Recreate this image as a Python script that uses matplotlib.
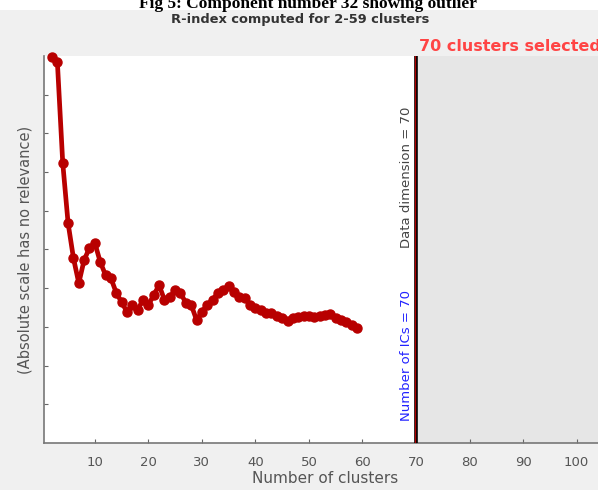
import matplotlib
matplotlib.use("Agg")
import matplotlib.pyplot as plt
from matplotlib.patches import Rectangle

clusters = list(range(2, 60))
r_index = [9.98, 9.84, 7.24, 5.68, 4.78, 4.13, 4.73, 5.04, 5.17, 4.68,
           4.34, 4.26, 3.88, 3.64, 3.39, 3.57, 3.44, 3.70, 3.57, 3.82,
           4.08, 3.70, 3.77, 3.95, 3.88, 3.62, 3.57, 3.18, 3.39, 3.57,
           3.70, 3.88, 3.95, 4.06, 3.90, 3.77, 3.75, 3.57, 3.49, 3.44,
           3.36, 3.36, 3.28, 3.23, 3.15, 3.23, 3.26, 3.28, 3.28, 3.26,
           3.28, 3.31, 3.33, 3.23, 3.18, 3.13, 3.05, 2.97]
xticks = [10, 20, 30, 40, 50, 60, 70, 80, 90, 100]
yticks = [1, 2, 3, 4, 5, 6, 7, 8, 9]
selected = 70

W, H = 598, 490
fig = plt.figure(figsize=(W / 100, H / 100), dpi=100, facecolor="#f0f0f0")

# white strip with clipped caption at top
fig.patches.append(Rectangle((0, 1 - 10 / H), 1, 10 / H, transform=fig.transFigure,
                             facecolor="white", edgecolor="none", zorder=0))
fig.text(0.515, 1 - 8 / H, "Fig 5: Component number 32 showing outlier",
         ha="center", va="baseline", fontsize=12.5, fontweight="bold",
         family="Liberation Serif", color="black")

fig.text(300 / W, 1 - 19 / H, "R-index computed for 2-59 clusters", ha="center",
         va="center", fontsize=9.4, fontweight="bold", color="#333333")

left, bottom, top = 44, 443, 56
right = 606
ax = fig.add_axes([left / W, (H - bottom) / H, (right - left) / W, (bottom - top) / H])
ax.set_facecolor("white")
ax.set_xlim(0.5, 105.5)
ax.set_ylim(0, 10)

ax.axvspan(selected, 105.5, color="#e6e6e6", zorder=0, lw=0)
ax.axvline(selected, color="black", lw=2.6, zorder=3)
ax.axvline(selected - 0.25, color="#b00000", lw=0.9, zorder=4)

ax.plot(clusters, r_index, color="#b80000", lw=3.4, marker="o", ms=6.5,
        markerfacecolor="#b80000", markeredgecolor="#b80000", zorder=5, clip_on=False)

ax.set_xticks(xticks)
ax.set_xticklabels([str(t) for t in xticks])
ax.set_yticks(yticks)
ax.set_yticklabels([])
ax.tick_params(direction="in", length=3, color="#666666", labelcolor="#555555",
               labelsize=9.5, pad=9)
for s in ["top", "right"]:
    ax.spines[s].set_visible(False)
for s in ["left", "bottom"]:
    ax.spines[s].set_color("#777777")
    ax.spines[s].set_linewidth(1.2)

ax.set_xlabel("Number of clusters", fontsize=11, color="#555555", labelpad=2)
ax.set_ylabel("(Absolute scale has no relevance)", fontsize=10.5, color="#555555")
ax.yaxis.set_label_coords(-0.021, 0.5)

ax.text(selected - 0.5, 6.87, "Data dimension = 70", rotation=90, ha="right",
        va="center", fontsize=9.5, color="#444444")
ax.text(selected - 0.5, 2.25, "Number of ICs = 70", rotation=90, ha="right",
        va="center", fontsize=9.5, color="#2222ff")
ax.text(selected + 0.5, 10.05, "70 clusters selected", ha="left", va="bottom",
        fontsize=11.5, fontweight="bold", color="#ff4444", clip_on=False)

fig.savefig("out.png", dpi=100, facecolor=fig.get_facecolor())
